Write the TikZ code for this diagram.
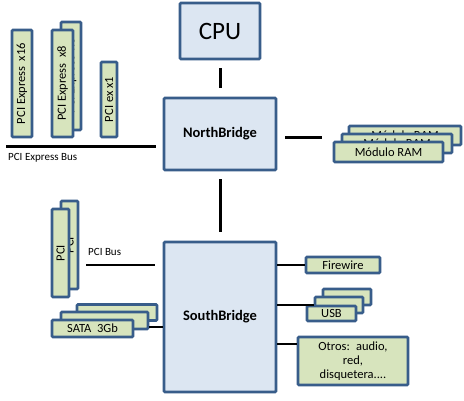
\documentclass[tikz,border=0pt]{standalone}
\usepackage{fontspec}
\setmainfont{Carlito}
\usetikzlibrary{calc}
\definecolor{bord}{HTML}{385D8A}
\definecolor{bluefill}{HTML}{DCE6F2}
\definecolor{greenfill}{HTML}{D7E4BD}
\tikzset{
  chip/.style={draw=bord, line width=2.6bp, fill=bluefill, rounded corners=1bp, inner sep=0pt},
  card/.style={draw=bord, line width=2.6bp, fill=greenfill, rounded corners=1bp, inner sep=0pt, font=\fontsize{12.5bp}{13bp}\selectfont, align=center},
  vcard/.style={card, rotate=90},
  thickbus/.style={line width=3bp, black},
  thinbus/.style={line width=1.4bp, black},
  lbl/.style={font=\fontsize{11bp}{12bp}\selectfont, inner sep=0pt, anchor=west}
}
\begin{document}
\begin{tikzpicture}[x=1bp, y=-1bp]
\useasboundingbox[fill=white] (0,0) rectangle (464,400);
% main chips
\node[chip, minimum width=80bp, minimum height=56bp, font=\fontsize{25bp}{27bp}\selectfont] (cpu) at (220,31) {CPU};
\node[chip, minimum width=112bp, minimum height=72bp, font=\bfseries\fontsize{14.5bp}{16bp}\selectfont] (nb) at (220,134) {NorthBridge};
\node[chip, minimum width=112bp, minimum height=150bp, font=\bfseries\fontsize{14.5bp}{16bp}\selectfont] (sb) at (220,317) {SouthBridge};
% PCI Express cards (rotated: minimum width = length)
\node[vcard, minimum width=107bp, minimum height=20bp] (x16) at (22,83.5) {PCI Express\ \ x16};
\node[vcard, minimum width=108bp, minimum height=20bp] (x8b) at (71,76) {PCI Express\ \ x8};
\node[vcard, minimum width=107bp, minimum height=21bp] (x8) at (62.5,83.5) {PCI Express\ \ x8};
\node[vcard, minimum width=75bp, minimum height=16bp] (x1) at (109,99.5) {PCI ex\ x1};
% RAM modules
\node[card, minimum width=112bp, minimum height=19bp] (ramc) at (405,135.5) {Módulo RAM};
\node[card, minimum width=110bp, minimum height=19bp] (ramb) at (397,143.5) {Módulo RAM};
\node[card, minimum width=109bp, minimum height=20bp] (rama) at (388.5,152) {Módulo RAM};
% PCI cards
\node[vcard, minimum width=88bp, minimum height=17bp] (pcib) at (69.5,245) {PCI};
\node[vcard, minimum width=88bp, minimum height=17bp] (pci) at (60.5,253) {PCI};
% SATA
\node[card, minimum width=80bp, minimum height=16bp] (satac) at (117,312.5) {};
\node[card, minimum width=87bp, minimum height=17bp] (satab) at (104.5,320.5) {};
\node[card, minimum width=81bp, minimum height=17bp] (sata) at (92.5,328.5) {SATA\ \ 3Gb};
% Southbridge peripherals
\node[card, minimum width=74bp, minimum height=16bp] (fw) at (343,265) {Firewire};
\node[card, minimum width=48bp, minimum height=16bp] (usbc) at (347,297) {};
\node[card, minimum width=48bp, minimum height=16bp] (usbb) at (339,305) {};
\node[card, minimum width=49bp, minimum height=15bp] (usb) at (331.5,313.5) {USB};
\node[card, minimum width=110bp, minimum height=48bp, text width=100bp, font=\fontsize{12.5bp}{14bp}\selectfont] (otros) at (353,361) {Otros: audio,\\red,\\disquetera....};
% connectors
\draw[thickbus] ($(cpu.south)+(0,8)$) -- ($(nb.north)+(0,-9)$);
\draw[thickbus] ($(nb.south)+(0,8)$) -- ($(sb.north)+(0,-9)$);
\draw[thickbus] ($(nb.east)+(8,3)$) -- ($(rama.west)+(-11,-15)$);
\coordinate (busL) at (6,146);
\coordinate (busR) at ($(nb.west)+(-7,12)$);
\draw[thickbus] (busL) -- (busR);
\node[lbl] (pcielbl) at (8,158) {PCI Express Bus};
\coordinate (pbL) at (86,265);
\coordinate (pbR) at ($(sb.west)+(-8,-52)$);
\draw[line width=1.8bp] (pbL) -- (pbR);
\node[lbl] (pcilbl) at (88,252) {PCI Bus};
\draw[thinbus] (satab.east |- 0,327) -- (sb.west |- 0,327);
\draw[thinbus] (sb.east |- fw.west) -- (fw.west);
\draw[thinbus] (sb.east |- usbb.west) -- (usbb.west);
\draw[thinbus] (sb.east |- 0,344) -- (otros.west |- 0,344);
\end{tikzpicture}
\end{document}
